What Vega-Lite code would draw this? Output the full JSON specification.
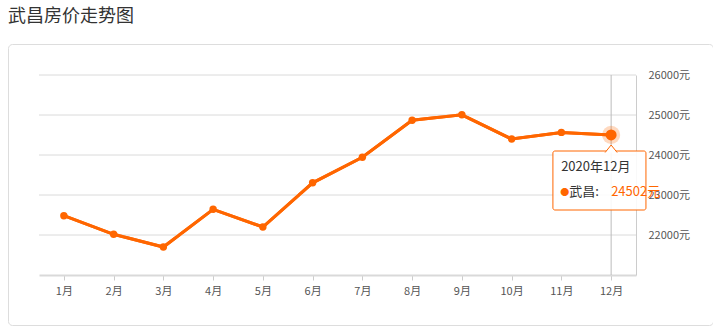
{
  "$schema": "https://vega.github.io/schema/vega-lite/v6.json",
  "width": 705,
  "height": 281,
  "autosize": {"type": "none"},
  "padding": {"left": 8, "top": 44, "right": 0, "bottom": 4},
  "background": "white",
  "title": {"text": "武昌房价走势图", "anchor": "start", "fontSize": 18, "fontWeight": "normal", "color": "#333333", "font": "Noto Sans CJK SC", "offset": 18, "frame": "group"},
  "config": {
    "view": {"stroke": "#dddddd", "cornerRadius": 4},
    "font": "Noto Sans CJK SC"
  },
  "datasets": {
    "prices": [
      {"m": 1, "price": 22483},
      {"m": 2, "price": 22017},
      {"m": 3, "price": 21700},
      {"m": 4, "price": 22642},
      {"m": 5, "price": 22200},
      {"m": 6, "price": 23305},
      {"m": 7, "price": 23942},
      {"m": 8, "price": 24867},
      {"m": 9, "price": 25005},
      {"m": 10, "price": 24400},
      {"m": 11, "price": 24565},
      {"m": 12, "price": 24502}
    ],
    "grid": [{"v": 22000}, {"v": 23000}, {"v": 24000}, {"v": 25000}, {"v": 26000}],
    "tip": [{"m": 12, "date": "2020年12月", "name": "武昌:", "price": 24502, "label": "24502元"}]
  },
  "data": {"name": "prices"},
  "layer": [
    {
      "mark": {"type": "line", "color": "#ff6600", "strokeWidth": 3},
      "encoding": {
        "x": {
          "field": "m", "type": "quantitative",
          "scale": {"domain": [0.5, 12.5], "range": [31, 628], "nice": false, "zero": false},
          "axis": {
            "orient": "bottom", "offset": -50, "values": [1,2,3,4,5,6,7,8,9,10,11,12],
            "labelExpr": "datum.value + '月'", "title": null, "grid": false,
            "domainColor": "#d9d9d9", "domainWidth": 2, "tickColor": "#cccccc", "tickSize": 5,
            "labelColor": "#555555", "labelFontSize": 11, "labelPadding": 5, "labelFont": "Noto Sans CJK SC"
          }
        },
        "y": {
          "field": "price", "type": "quantitative",
          "scale": {"domain": [21000, 26000], "range": [231, 31], "nice": false, "zero": false},
          "axis": {
            "orient": "right", "offset": -77, "values": [22000, 23000, 24000, 25000, 26000],
            "labelExpr": "datum.value + '元'", "title": null, "grid": false, "ticks": false,
            "domainColor": "#cccccc", "domainWidth": 1,
            "labelColor": "#555555", "labelFontSize": 11, "labelPadding": 12, "labelFont": "Noto Sans CJK SC"
          }
        }
      }
    },
    {
      "data": {"name": "grid"},
      "mark": {"type": "rule", "color": "#dadada", "strokeWidth": 1},
      "encoding": {
        "x": {"datum": 0.5, "type": "quantitative"},
        "x2": {"datum": 12.5},
        "y": {"field": "v", "type": "quantitative"}
      }
    },
    {
      "mark": {"type": "line", "color": "#ff6600", "strokeWidth": 3},
      "encoding": {
        "x": {"field": "m", "type": "quantitative"},
        "y": {"field": "price", "type": "quantitative"}
      }
    },
    {
      "data": {"name": "tip"},
      "mark": {"type": "rule", "color": "#bbbbbb", "strokeWidth": 1},
      "encoding": {
        "x": {"field": "m", "type": "quantitative"},
        "y": {"datum": 21000, "type": "quantitative"},
        "y2": {"datum": 26000}
      }
    },
    {
      "mark": {"type": "circle", "color": "#ff6600", "opacity": 1, "size": 55},
      "encoding": {
        "x": {"field": "m", "type": "quantitative"},
        "y": {"field": "price", "type": "quantitative"}
      }
    },
    {
      "data": {"name": "tip"},
      "mark": {"type": "circle", "color": "#ff6600", "opacity": 0.25, "size": 330},
      "encoding": {
        "x": {"field": "m", "type": "quantitative"},
        "y": {"field": "price", "type": "quantitative"}
      }
    },
    {
      "data": {"name": "tip"},
      "mark": {"type": "circle", "color": "#ff6600", "opacity": 1, "size": 120},
      "encoding": {
        "x": {"field": "m", "type": "quantitative"},
        "y": {"field": "price", "type": "quantitative"}
      }
    },
    {
      "data": {"name": "tip"},
      "mark": {"type": "rect", "fill": "#ffffff", "fillOpacity": 0.88, "stroke": "#ff6600", "strokeWidth": 1, "cornerRadius": 2},
      "encoding": {
        "x": {"datum": 10.83, "type": "quantitative"},
        "x2": {"datum": 12.7},
        "y": {"datum": 24100, "type": "quantitative"},
        "y2": {"datum": 22625}
      }
    },
    {
      "data": {"name": "tip"},
      "mark": {"type": "point", "shape": "M-1,0.25L0,-1L1,0.25", "size": 144, "filled": true, "fill": "#ffffff", "fillOpacity": 1, "stroke": "#ff6600", "strokeWidth": 1, "opacity": 1},
      "encoding": {
        "x": {"field": "m", "type": "quantitative"},
        "y": {"datum": 24100, "type": "quantitative"}
      }
    },
    {
      "data": {"name": "tip"},
      "mark": {"type": "text", "align": "left", "baseline": "middle", "dx": -50, "fontSize": 13, "color": "#333333", "font": "Noto Sans CJK SC"},
      "encoding": {
        "x": {"field": "m", "type": "quantitative"},
        "y": {"datum": 23690, "type": "quantitative"},
        "text": {"field": "date"}
      }
    },
    {
      "data": {"name": "tip"},
      "mark": {"type": "text", "align": "left", "baseline": "middle", "dx": -51, "fontSize": 9, "color": "#ff6600"},
      "encoding": {
        "x": {"field": "m", "type": "quantitative"},
        "y": {"datum": 23083, "type": "quantitative"},
        "text": {"value": "●"}
      }
    },
    {
      "data": {"name": "tip"},
      "mark": {"type": "text", "align": "left", "baseline": "middle", "dx": -42, "fontSize": 13, "color": "#333333", "font": "Noto Sans CJK SC"},
      "encoding": {
        "x": {"field": "m", "type": "quantitative"},
        "y": {"datum": 23083, "type": "quantitative"},
        "text": {"field": "name"}
      }
    },
    {
      "data": {"name": "tip"},
      "mark": {"type": "text", "align": "left", "baseline": "middle", "dx": 0, "fontSize": 13, "color": "#ff6600", "font": "Noto Sans CJK SC"},
      "encoding": {
        "x": {"field": "m", "type": "quantitative"},
        "y": {"datum": 23083, "type": "quantitative"},
        "text": {"field": "label"}
      }
    }
  ]
}
